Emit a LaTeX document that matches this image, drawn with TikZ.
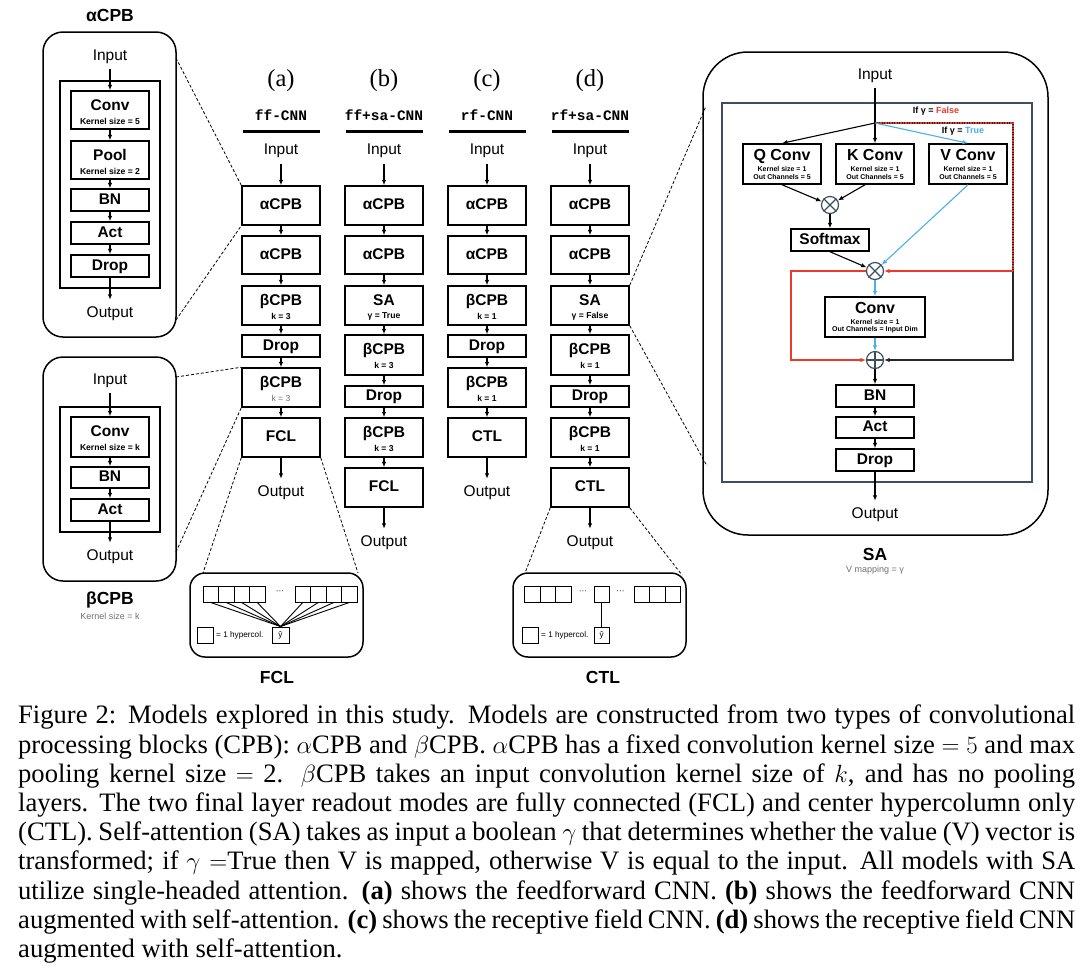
\documentclass[tikz,border=0pt]{standalone}
\usepackage{fontspec}
\setmainfont{Liberation Serif}
\setsansfont{Liberation Sans}
\setmonofont{Liberation Mono}
\usetikzlibrary{arrows.meta}

\definecolor{sablue}{HTML}{4AB0E6}
\definecolor{sared}{HTML}{EA3A2D}
\definecolor{slate}{HTML}{3E4E60}
\definecolor{txtgray}{HTML}{707070}

\newcommand\fBL{\sffamily\bfseries\fontsize{15.5}{16}\selectfont}
\newcommand\fBLL{\sffamily\bfseries\fontsize{16}{17}\selectfont}
\newcommand\fSM{\sffamily\bfseries\fontsize{8.6}{9}\selectfont}
\newcommand\fSMK{\sffamily\bfseries\fontsize{8.6}{9}\selectfont}
\newcommand\fSMG{\sffamily\fontsize{8.6}{9}\selectfont}
\newcommand\fXS{\sffamily\bfseries\fontsize{7}{7.5}\selectfont}
\newcommand\fIO{\sffamily\fontsize{15.5}{16}\selectfont}
\newcommand\fTT{\sffamily\bfseries\fontsize{17.5}{18}\selectfont}
\newcommand\fNT{\sffamily\fontsize{9}{10}\selectfont}
\newcommand\fHD{\ttfamily\bfseries\fontsize{14.5}{15}\selectfont}
\newcommand\fPL{\rmfamily\fontsize{24.5}{26}\selectfont}
\newcommand\fIF{\sffamily\bfseries\fontsize{9}{10}\selectfont}
\newcommand\fHY{\sffamily\fontsize{8.2}{9}\selectfont}

\tikzset{
 every node/.style={font=\sffamily},
 lay/.style={draw, line width=1.5pt, minimum width=78pt, inner sep=0pt, font=\fBL, text height=11pt, text depth=3pt},
 bl/.style={inner sep=0pt, font=\fBL, text height=11pt, text depth=3pt},
 blL/.style={inner sep=0pt, font=\fBLL, text height=12pt, text depth=3pt},
 sm/.style={inner sep=0pt, font=\fSM},
 smk/.style={inner sep=0pt, font=\fSMK},
 smg/.style={inner sep=0pt, font=\fSMG, text=txtgray},
 xs/.style={inner sep=0pt, font=\fXS},
 io/.style={inner sep=2pt, font=\fIO},
 ttl/.style={inner sep=0pt, font=\fTT},
 note/.style={inner sep=0pt, font=\fNT, text=txtgray},
 hdr/.style={inner sep=0pt, font=\fHD},
 plab/.style={inner sep=0pt, font=\fPL},
 iflab/.style={inner sep=0pt, font=\fIF},
 arr/.style={-{Latex[length=5.5pt,width=4.5pt]}, line width=1.1pt},
 panel/.style={draw, line width=1.5pt, rounded corners=20pt, inner sep=0pt},
 inbox/.style={draw, line width=1.5pt, inner sep=0pt, minimum width=100pt},
 zoomline/.style={line width=0.8pt, dash pattern=on 3pt off 2pt},
 opn/.style={circle, draw=slate, line width=1.2pt, minimum size=17pt, inner sep=0pt},
 cell/.style={draw, line width=1pt, minimum width=15.5pt, minimum height=16pt, inner sep=0pt},
 upl/.style={line width=3pt},
}

% name, cx, top, bottom, text
\newcommand\LayS[5]{\node[lay, minimum height={(#4)-(#3)}] (#1) at (#2,{((#3)+(#4))/2}) {#5};}
% name, cx, top, bottom, main, sub, substyle
\newcommand\LayT[7]{%
 \node[lay, minimum height={(#4)-(#3)}] (#1) at (#2,{((#3)+(#4))/2}) {};
 \node[bl] (#1m) at (#2,{(#3)+15.5}) {#5};
 \node[#7] (#1s) at (#2,{(#3)+30}) {#6};}
% name, cx, top, bottom, width, main, sub1, sub2
\newcommand\LayC[8]{%
 \node[lay, minimum width=#5, minimum height={(#4)-(#3)}] (#1) at (#2,{((#3)+(#4))/2}) {};
 \node[blL] (#1m) at (#2,{(#3)+12}) {#6};
 \node[xs] (#1a) at (#2,{(#3)+25}) {#7};
 \node[xs] (#1b) at (#2,{(#3)+33}) {#8};}

\begin{document}
\begin{tikzpicture}[x=1pt,y=-1pt]
\useasboundingbox (0,0) rectangle (1090,970);

% ---------------- alpha CPB panel ----------------
\node[ttl] (tA) at (110,15) {αCPB};
\node[panel, minimum width=133pt, minimum height=305pt] (pA) at (109.5,184.5) {};
\node[inbox, minimum height=207pt] (iA) at (110,184.5) {};
\node[io] (inA) at (110,57) {Input};
\LayT{cA}{110}{91}{129}{Conv}{Kernel size = 5}{smk}
\LayT{poA}{110}{141}{179}{Pool}{Kernel size = 2}{smk}
\LayS{bnA}{110}{189}{211}{BN}
\LayS{acA}{110}{222}{244}{Act}
\LayS{drA}{110}{255}{277}{Drop}
\node[io] (outA) at (110,314) {Output};
\draw[arr, shorten <=3pt] (inA) -- (cA);
\foreach \p/\q in {cA/poA, poA/bnA, bnA/acA, acA/drA} \draw[arr] (\p) -- (\q);
\draw[arr, shorten >=5pt] (drA) -- (outA);

% ---------------- beta CPB panel ----------------
\node[panel, minimum width=133pt, minimum height=224pt] (pB) at (109.5,469) {};
\node[inbox, minimum height=125pt] (iB) at (110,469.5) {};
\node[io] (inB) at (110,381) {Input};
\LayT{cB}{110}{417}{457}{Conv}{Kernel size = k}{smk}
\LayS{bnB}{110}{467}{488}{BN}
\LayS{acB}{110}{499}{521}{Act}
\node[io] (outB) at (110,557) {Output};
\node[ttl] (tB) at (110,600) {βCPB};
\node[note] (kB) at (110,616) {Kernel size = k};
\draw[arr, shorten <=3pt] (inB) -- (cB);
\draw[arr] (cB) -- (bnB);
\draw[arr] (bnB) -- (acB);
\draw[arr, shorten >=5pt] (acB) -- (outB);

% ---------------- column (a) ----------------
\node[plab] (la) at (281,81) {(a)};
\node[hdr] (ha) at (281,115) {ff-CNN};
\draw[upl] (242.5,131) -- (319.5,131);
\node[io] (ina) at (281,151) {Input};
\LayS{a1}{281}{186}{225}{αCPB}
\LayS{a2}{281}{236}{274}{αCPB}
\LayT{a3}{281}{286}{325}{βCPB}{k = 3}{sm}
\LayS{a4}{281}{335}{357}{Drop}
\LayT{a5}{281}{368}{407}{βCPB}{k = 3}{smg}
\LayS{a6}{281}{418}{457}{FCL}
\node[io] (oa) at (281,493) {Output};
\draw[arr, shorten <=4pt] (ina) -- (a1);
\foreach \p/\q in {a1/a2,a2/a3,a3/a4,a4/a5,a5/a6} \draw[arr] (\p) -- (\q);
\draw[arr, shorten >=5pt] (a6) -- (oa);

% ---------------- column (b) ----------------
\node[plab] (lb) at (384,81) {(b)};
\node[hdr] (hb) at (384,115) {ff+sa-CNN};
\draw[upl] (345.5,131) -- (422.5,131);
\node[io] (inb) at (384,151) {Input};
\LayS{b1}{384}{186}{225}{αCPB}
\LayS{b2}{384}{236}{274}{αCPB}
\LayT{b3}{384}{286}{325}{SA}{γ = True}{sm}
\LayT{b4}{384}{335}{375}{βCPB}{k = 3}{sm}
\LayS{b5}{384}{386}{407}{Drop}
\LayT{b6}{384}{418}{457}{βCPB}{k = 3}{sm}
\LayS{b7}{384}{468}{507}{FCL}
\node[io] (ob) at (384,543) {Output};
\draw[arr, shorten <=4pt] (inb) -- (b1);
\foreach \p/\q in {b1/b2,b2/b3,b3/b4,b4/b5,b5/b6,b6/b7} \draw[arr] (\p) -- (\q);
\draw[arr, shorten >=5pt] (b7) -- (ob);

% ---------------- column (c) ----------------
\node[plab] (lc) at (487,81) {(c)};
\node[hdr] (hc) at (487,115) {rf-CNN};
\draw[upl] (448.5,131) -- (525.5,131);
\node[io] (inc) at (487,151) {Input};
\LayS{c1}{487}{186}{225}{αCPB}
\LayS{c2}{487}{236}{274}{αCPB}
\LayT{c3}{487}{286}{325}{βCPB}{k = 1}{sm}
\LayS{c4}{487}{335}{357}{Drop}
\LayT{c5}{487}{368}{407}{βCPB}{k = 1}{sm}
\LayS{c6}{487}{418}{457}{CTL}
\node[io] (oc) at (487,493) {Output};
\draw[arr, shorten <=4pt] (inc) -- (c1);
\foreach \p/\q in {c1/c2,c2/c3,c3/c4,c4/c5,c5/c6} \draw[arr] (\p) -- (\q);
\draw[arr, shorten >=5pt] (c6) -- (oc);

% ---------------- column (d) ----------------
\node[plab] (ld) at (590,81) {(d)};
\node[hdr] (hd) at (590,115) {rf+sa-CNN};
\draw[upl] (551.5,131) -- (628.5,131);
\node[io] (ind) at (590,151) {Input};
\LayS{d1}{590}{186}{225}{αCPB}
\LayS{d2}{590}{236}{274}{αCPB}
\LayT{d3}{590}{286}{325}{SA}{γ = False}{sm}
\LayT{d4}{590}{335}{375}{βCPB}{k = 1}{sm}
\LayS{d5}{590}{386}{407}{Drop}
\LayT{d6}{590}{418}{457}{βCPB}{k = 1}{sm}
\LayS{d7}{590}{468}{507}{CTL}
\node[io] (od) at (590,543) {Output};
\draw[arr, shorten <=4pt] (ind) -- (d1);
\foreach \p/\q in {d1/d2,d2/d3,d3/d4,d4/d5,d5/d6,d6/d7} \draw[arr] (\p) -- (\q);
\draw[arr, shorten >=5pt] (d7) -- (od);

% ---------------- FCL panel ----------------
\node[panel, rounded corners=15pt, minimum width=173pt, minimum height=84pt] (pF) at (276.5,615) {};
\foreach \i in {0,...,3} {
  \node[cell] (fl\i) at ({210.75+15.5*\i},594) {};
  \node[cell] (fr\i) at ({302.75+15.5*\i},594) {};
}
\node[inner sep=0pt, font=\fHY] (fdots) at (280,592) {\textperiodcentered\textperiodcentered\textperiodcentered};
\node[cell, minimum width=17pt, font=\fHY] (fy) at (280.5,635) {ŷ};
\foreach \i in {0,...,3} {
  \draw[line width=0.9pt] (fl\i.south) -- (fy.north);
  \draw[line width=0.9pt] (fr\i.south) -- (fy.north);
}
\node[cell] (fleg) at (205.5,635) {};
\node[anchor=west, inner sep=0pt, font=\fHY] (fht) at (216,635) {= 1 hypercol.};
\node[ttl] (tF) at (277,677) {FCL};

% ---------------- CTL panel ----------------
\node[panel, rounded corners=15pt, minimum width=173pt, minimum height=84pt] (pC) at (599.5,615) {};
\foreach \i in {0,...,2} {
  \node[cell] (cl\i) at ({532.25+15.5*\i},594) {};
  \node[cell] (cr\i) at ({641.75+15.5*\i},594) {};
}
\node[cell] (cm) at (601.75,594) {};
\node[inner sep=0pt, font=\fHY] (cdots1) at (583,592) {\textperiodcentered\textperiodcentered\textperiodcentered};
\node[inner sep=0pt, font=\fHY] (cdots2) at (620.5,592) {\textperiodcentered\textperiodcentered\textperiodcentered};
\node[cell, minimum width=15pt, font=\fHY] (cy) at (601.75,635) {ŷ};
\draw[line width=0.9pt] (cm) -- (cy);
\node[cell] (cleg) at (530.5,635) {};
\node[anchor=west, inner sep=0pt, font=\fHY] (cht) at (541,635) {= 1 hypercol.};
\node[ttl] (tC) at (603,677) {CTL};

% ---------------- SA panel ----------------
\node[panel, rounded corners=45pt, minimum width=345pt, minimum height=483pt] (pS) at (875.5,293.5) {};
\node[draw=slate, line width=1.4pt, inner sep=0pt, minimum width=310pt, minimum height=379pt] (iS) at (877,292.5) {};
\node[io] (inS) at (875,76) {Input};
\coordinate (br) at (875,123);
\LayC{qc}{782}{144}{184}{78pt}{Q Conv}{Kernel size = 1}{Out Channels = 5}
\LayC{kc}{875}{144}{184}{78pt}{K Conv}{Kernel size = 1}{Out Channels = 5}
\LayC{vc}{968}{144}{184}{78pt}{V Conv}{Kernel size = 1}{Out Channels = 5}
\node[opn] (m1) at (830,205) {};
\draw[slate, line width=1.1pt] (m1.north east) -- (m1.south west) (m1.north west) -- (m1.south east);
\LayS{smx}{830}{229}{251}{Softmax}
\node[opn] (m2) at (875,271) {};
\draw[slate, line width=1.1pt] (m2.north east) -- (m2.south west) (m2.north west) -- (m2.south east);
\LayC{cv}{875}{297}{337}{100pt}{Conv}{Kernel size = 1}{Out Channels = Input Dim}
\node[opn] (pl) at (875,360) {};
\draw[slate, line width=1.1pt] (pl.north) -- (pl.south) (pl.west) -- (pl.east);
\LayS{bnS}{875}{385}{407}{BN}
\LayS{acS}{875}{417}{438}{Act}
\LayS{drS}{875}{449}{471}{Drop}
\node[io] (outS) at (875,515) {Output};
\node[ttl] (tS) at (875,554) {SA};
\node[note] (vS) at (875,570) {V mapping = γ};
\node[iflab] (ifF) at (936,111) {If γ = \textcolor{sared}{False}};
\node[iflab] (ifT) at (963,131) {If γ = \textcolor{sablue}{True}};

\coordinate (rt) at (1013,123);
\coordinate (rm) at (1013,271);
\coordinate (rb) at (1013,360);
\coordinate (lt) at (791,271);
\coordinate (lb) at (791,360);

% residual (black) path
\draw[arr, black!85] (br) -- (rt) -- (rb) -- (pl.east);
% gamma = False path (red)
\draw[sared, line width=1.2pt, dash pattern=on 1.5pt off 1pt] (br) -- (rt) -- (rm);
\draw[arr, sared] (rm) -- (m2.east);
\draw[arr, sared] (m2.west) -- (lt) -- (lb) -- (pl.west);

\draw[arr, shorten <=3pt] (inS) -- (kc);
\draw[arr] (br) -- (qc.north);
\draw[arr, sablue] (br) -- (vc.north);
\draw[arr] (qc.south) -- (m1);
\draw[arr] ([xshift=-10pt]kc.south) -- (m1);
\draw[arr] (m1) -- (smx);
\draw[arr] (smx.south) -- (m2);
\draw[arr, sablue] (vc.south) -- (m2);
\draw[arr, sablue] (m2) -- (cv);
\draw[arr, sablue] (cv) -- (pl);
\draw[arr] (pl) -- (bnS);
\draw[arr] (bnS) -- (acS);
\draw[arr] (acS) -- (drS);
\draw[arr, shorten >=5pt] (drS) -- (outS);

% ---------------- zoom (dashed) connectors ----------------
\coordinate (zA1) at (176,58);
\coordinate (zA2) at (176,320);
\coordinate (zB1) at (176,377);
\coordinate (zB2) at (176,552);
\coordinate (zF1) at (203,573);
\coordinate (zF2) at (358,573);
\coordinate (zC1) at (525,573);
\coordinate (zC2) at (682,575);
\coordinate (zS1) at (706,106);
\coordinate (zS2) at (707,466);
\draw[zoomline] (zA1) -- (a1.north west);
\draw[zoomline] (zA2) -- (a1.south west);
\draw[zoomline] (zB1) -- (a5.north west);
\draw[zoomline] (zB2) -- (a5.south west);
\draw[zoomline] (a6.south west) -- (zF1);
\draw[zoomline] (a6.south east) -- (zF2);
\draw[zoomline] (d7.south west) -- (zC1);
\draw[zoomline] (d7.south east) -- (zC2);
\draw[zoomline] (d3.north east) -- (zS1);
\draw[zoomline] (d3.south east) -- (zS2);

% ---------------- caption ----------------
\node[anchor=north west, inner sep=0pt, text width=1057pt, align=justify,
      font=\rmfamily\fontsize{26.6}{29.2}\selectfont] (cap) at (18,705) {%
Figure 2: Models explored in this study. Models are constructed from two types of convolutional\linebreak
processing blocks (CPB): $\alpha$CPB and $\beta$CPB. $\alpha$CPB has a fixed convolution kernel size $=5$ and max\linebreak
pooling kernel size $=$ 2. $\beta$CPB takes an input convolution kernel size of $k$, and has no pooling\linebreak
layers. The two final layer readout modes are fully connected (FCL) and center hypercolumn only\linebreak
(CTL). Self-attention (SA) takes as input a boolean $\gamma$ that determines whether the value (V) vector is\linebreak
transformed; if $\gamma =$True then V is mapped, otherwise V is equal to the input. All models with SA\linebreak
utilize single-headed attention. \textbf{(a)} shows the feedforward CNN. \textbf{(b)} shows the feedforward CNN\linebreak
augmented with self-attention. \textbf{(c)} shows the receptive field CNN. \textbf{(d)} shows the receptive field CNN\linebreak
augmented with self-attention.};
\end{tikzpicture}
\end{document}
